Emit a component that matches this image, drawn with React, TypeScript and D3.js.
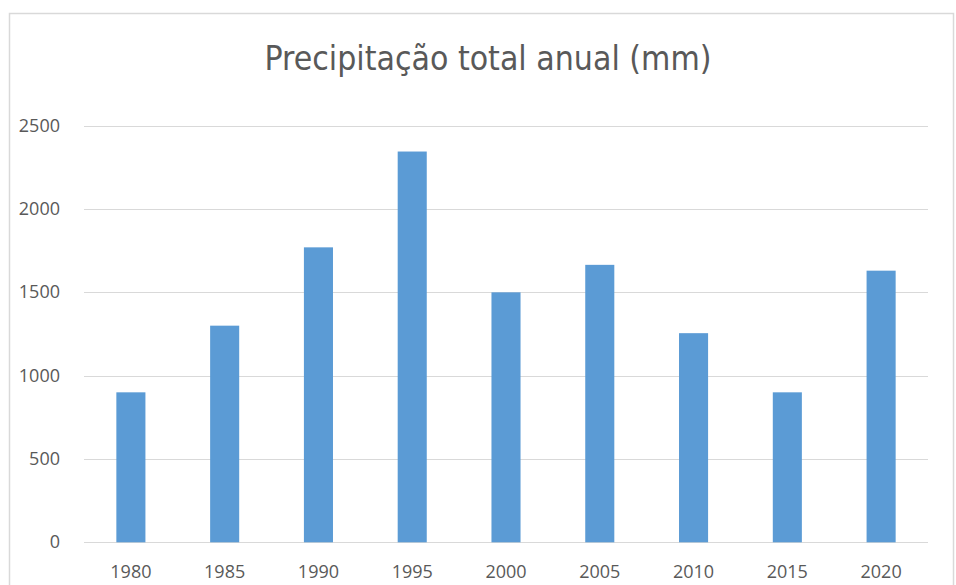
import React from "react";
import * as d3 from "d3";

const years: string[] = ["1980", "1985", "1990", "1995", "2000", "2005", "2010", "2015", "2020"];
const precipitation: number[] = [900, 1300, 1770, 2345, 1500, 1665, 1255, 900, 1630];
const yTicks: number[] = [0, 500, 1000, 1500, 2000, 2500];
const title = "Precipitação total anual (mm)";

const W = 956;
const H = 585;
const left = 84;
const right = 928;
const top = 125.7;
const bottom = 542.3;

export default function App() {
  const x = d3.scaleBand<string>().domain(years).range([left, right]).padding(0);
  const y = d3.scaleLinear().domain([0, 2500]).range([bottom, top]);
  const bw = x.bandwidth() * 0.31;
  const font = "'Open Sans', 'Liberation Sans', sans-serif";
  return (
    <svg
      width={W}
      height={H}
      style={{ position: "absolute", left: 0, top: 0, display: "block", background: "#fff" }}
    >
      <rect x={0} y={0} width={W} height={H} fill="#fff" />
      <path d={`M9.5,${H} V13.5 H953.5 V${H}`} fill="none" stroke="#d9d9d9" strokeWidth={1.5} />
      <text
        x={488}
        y={70}
        textAnchor="middle"
        fontFamily="'Liberation Sans Narrow', 'DejaVu Sans Condensed', 'Open Sans', sans-serif"
        fontSize={34}
        fill="#595959"
        textLength={447}
        lengthAdjust="spacingAndGlyphs"
      >
        {title}
      </text>
      {yTicks.map((t) => (
        <g key={t}>
          <line x1={left} x2={right} y1={Math.round(y(t)) + 0.5} y2={Math.round(y(t)) + 0.5} stroke="#d9d9d9" strokeWidth={1.2} />
          <text
            x={60}
            y={y(t) + 6}
            textAnchor="end"
            fontFamily={font}
            fontSize={18}
            fill="#595959"
          >
            {t}
          </text>
        </g>
      ))}
      {years.map((yr, i) => {
        const cx = (x(yr) as number) + x.bandwidth() / 2;
        return (
          <g key={yr}>
            <rect
              x={cx - bw / 2}
              y={y(precipitation[i])}
              width={bw}
              height={y(0) - y(precipitation[i])}
              fill="#5B9BD5"
            />
            <text
              x={cx}
              y={578}
              textAnchor="middle"
              fontFamily={font}
              fontSize={18}
              fill="#595959"
            >
              {yr}
            </text>
          </g>
        );
      })}
    </svg>
  );
}
